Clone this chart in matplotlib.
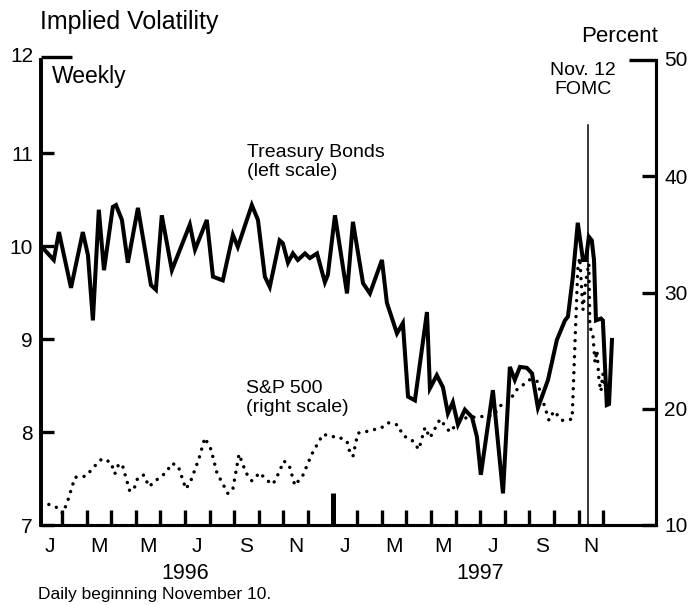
"""
Implied volatility: Treasury bonds (left scale) vs S&P 500 (right scale),
weekly from January 1996, daily beginning November 10, 1997.

Saves: out.png
"""

import matplotlib
matplotlib.use("Agg")
import matplotlib.pyplot as plt

plt.rcParams["font.family"] = ["Liberation Sans", "DejaVu Sans"]

# ---------------------------------------------------------------------------
# Data (x = months since Jan 1, 1996)
# ---------------------------------------------------------------------------

TSY_MONTHS = [
    0.15, 0.67, 0.88, 1.37, 1.85, 2.06, 2.26, 2.50, 2.71, 3.07, 3.20, 3.44,
    3.68, 4.09, 4.62, 4.82, 5.06, 5.47, 6.20, 6.41, 6.89, 7.14, 7.54, 7.95,
    8.15, 8.72, 8.97, 9.25, 9.45, 9.85, 9.98, 10.19, 10.39, 10.59, 10.88,
    11.08, 11.37, 11.69, 11.81, 12.10, 12.59, 12.83, 13.24, 13.52, 14.01,
    14.21, 14.62, 14.86, 15.07, 15.35, 15.84, 15.96, 16.24, 16.49, 16.69,
    16.89, 17.10, 17.38, 17.67, 17.87, 18.03, 18.52, 18.93, 19.21, 19.41,
    19.62, 19.90, 20.11, 20.35, 20.76, 21.12, 21.45, 21.57, 21.77, 21.97,
    22.18, 22.30, 22.42, 22.54, 22.63, 22.71, 22.91, 22.99, 23.15, 23.24,
    23.36,
]
TSY_VALUES = [
    10.00, 9.85, 10.15, 9.55, 10.15, 9.90, 9.20, 10.39, 9.74, 10.42, 10.44,
    10.28, 9.82, 10.41, 9.58, 9.53, 10.33, 9.74, 10.23, 9.96, 10.28, 9.67,
    9.63, 10.12, 9.99, 10.44, 10.28, 9.67, 9.56, 10.06, 10.03, 9.82, 9.92,
    9.85, 9.92, 9.87, 9.92, 9.61, 9.69, 10.33, 9.49, 10.26, 9.60, 9.49, 9.85,
    9.39, 9.06, 9.17, 8.38, 8.34, 9.29, 8.47, 8.61, 8.48, 8.20, 8.32, 8.08,
    8.24, 8.16, 7.95, 7.54, 8.45, 7.34, 8.70, 8.56, 8.70, 8.69, 8.63, 8.26,
    8.56, 8.99, 9.20, 9.24, 9.67, 10.25, 9.85, 9.85, 10.10, 10.06, 9.85,
    9.20, 9.22, 9.20, 8.29, 8.30, 8.99,
]

SPX_MONTHS = [
    0.15, 0.43, 0.80, 1.04, 1.24, 1.53, 1.98, 2.30, 2.63, 2.99, 3.15, 3.32,
    3.48, 3.76, 3.93, 4.09, 4.33, 4.54, 4.86, 5.23, 5.47, 5.72, 6.04, 6.24,
    6.57, 6.81, 7.06, 7.30, 7.75, 7.95, 8.20, 8.48, 8.72, 9.05, 9.29, 9.58,
    9.82, 10.02, 10.23, 10.47, 10.80, 11.16, 11.61, 12.02, 12.22, 12.59,
    12.71, 12.83, 13.03, 13.52, 14.01, 14.25, 14.66, 14.86, 15.23, 15.51,
    15.76, 15.96, 16.37, 16.77, 17.10, 17.38, 17.87, 18.52, 18.85, 19.21,
    19.41, 20.02, 20.31, 20.55, 20.80, 21.00, 21.33, 21.74, 21.97, 22.05,
    22.18, 22.30, 22.42, 22.46, 22.58, 22.67, 22.75, 22.83, 22.91, 22.99,
    23.07, 23.15,
]
SPX_VALUES = [
    11.9, 11.8, 11.5, 11.0, 12.1, 14.1, 14.2, 15.0, 15.7, 15.4, 14.4, 15.3,
    15.0, 12.9, 13.1, 14.1, 14.3, 13.3, 13.9, 14.5, 15.3, 15.1, 13.1, 13.8,
    15.7, 17.5, 16.5, 14.5, 12.7, 13.1, 16.1, 14.5, 13.8, 14.5, 13.9, 13.5,
    14.5, 15.5, 15.2, 13.4, 14.3, 16.1, 17.8, 17.6, 17.6, 17.2, 16.2, 15.9,
    17.9, 18.1, 18.4, 18.8, 18.6, 17.7, 17.3, 16.5, 18.4, 17.5, 19.1, 18.0,
    18.8, 19.2, 19.3, 19.4, 20.3, 20.6, 21.5, 22.5, 22.4, 20.7, 19.0, 19.8,
    19.0, 19.1, 32.0, 33.0, 28.5, 31.0, 32.5, 27.0, 26.5, 24.0, 25.0, 22.5,
    21.5, 23.0, 21.8, 22.5,
]

FOMC_MONTH = 22.37          # Nov. 12, 1997
MONTH_TICKS = list(range(1, 24))
YEAR_TICK = 12              # Jan 1997
MONTH_LABELS = ["J", "M", "M", "J", "S", "N", "J", "M", "M", "J", "S", "N"]
MONTH_LABEL_POS = [0.5, 2.5, 4.5, 6.5, 8.5, 10.5, 12.5, 14.5, 16.5, 18.5, 20.5, 22.5]
LEFT_TICKS = [7, 8, 9, 10, 11, 12]
RIGHT_TICKS = [10, 20, 30, 40, 50]

W, H = 694, 605


def fx(px):
    return px / W


def fy(py):
    return 1 - py / H


def main():
    fig = plt.figure(figsize=(W / 100, H / 100), dpi=100)
    ax = fig.add_axes([fx(41), fy(525), fx(656) - fx(41), fy(60) - fy(525)])
    ax2 = ax.twinx()

    ax.set_xlim(0.15, 25.15)
    ax.set_ylim(7, 12)
    ax2.set_ylim(10, 50)

    # Series
    ax.plot(TSY_MONTHS, TSY_VALUES, color="black", lw=2.9,
            solid_joinstyle="miter", zorder=3)
    ax2.plot(SPX_MONTHS, SPX_VALUES, color="black", lw=2.5,
             linestyle=(0, (0.01, 2.3)), dash_capstyle="round", zorder=3)

    # FOMC marker
    ax.plot([FOMC_MONTH, FOMC_MONTH], [7, 11.3], color="black", lw=1.1, zorder=2)

    # Spines
    for a in (ax, ax2):
        a.spines["top"].set_visible(False)
        a.spines["left"].set_linewidth(2.6)
        a.spines["right"].set_linewidth(2.2)
        a.spines["bottom"].set_linewidth(2.2)

    # Top caps on each scale
    ax.plot([0, 0.05], [1.006, 1.006], transform=ax.transAxes, color="black",
            lw=2.4, clip_on=False, solid_capstyle="butt")
    ax.plot([0.956, 1.0], [1.0, 1.0], transform=ax.transAxes, color="black",
            lw=2.4, clip_on=False, solid_capstyle="butt")

    # x ticks: months inward, Jan 1997 taller
    ax.set_xticks([YEAR_TICK])
    ax.set_xticks([m for m in MONTH_TICKS if m != YEAR_TICK], minor=True)
    ax.tick_params(axis="x", which="major", direction="in", length=23,
                   width=3.6, labelbottom=False)
    ax.tick_params(axis="x", which="minor", direction="in", length=11,
                   width=2.4)

    # y ticks
    ax.set_yticks(LEFT_TICKS[:-1])
    ax.set_yticklabels([str(v) for v in LEFT_TICKS[:-1]])
    ax.tick_params(axis="y", direction="in", length=9, width=2.4,
                   labelsize=15, pad=6)
    ax2.set_yticks(RIGHT_TICKS[:-1])
    ax2.set_yticklabels([str(v) for v in RIGHT_TICKS[:-1]])
    ax2.tick_params(axis="y", direction="in", length=10, width=2.4,
                    labelsize=15, pad=6)

    # Top tick labels (drawn separately beside the caps)
    fig.text(fx(33), fy(57), "12", ha="right", va="center", fontsize=15)
    fig.text(fx(664), fy(60), "50", ha="left", va="center", fontsize=15)

    # Month labels
    for pos, lab in zip(MONTH_LABEL_POS, MONTH_LABELS):
        ax.text(pos, -0.025, lab, transform=ax.get_xaxis_transform(),
                ha="center", va="top", fontsize=15)
    ax.text(6.0, -0.082, "1996", transform=ax.get_xaxis_transform(),
            ha="center", va="top", fontsize=15.5)
    ax.text(18.0, -0.082, "1997", transform=ax.get_xaxis_transform(),
            ha="center", va="top", fontsize=15.5)

    # Titles and annotations
    fig.text(fx(40), fy(22), "Implied Volatility", ha="left", va="center",
             fontsize=18)
    fig.text(fx(620), fy(37), "Percent", ha="center", va="center", fontsize=16)
    fig.text(fx(52), fy(77), "Weekly", ha="left", va="center", fontsize=16.5)
    fig.text(fx(583), fy(80), "Nov. 12\nFOMC", ha="center", va="center",
             fontsize=14, linespacing=1.15)
    fig.text(fx(247), fy(162), "Treasury Bonds\n(left scale)", ha="left",
             va="center", fontsize=14, linespacing=1.2)
    fig.text(fx(246), fy(398), "S&P 500\n(right scale)", ha="left",
             va="center", fontsize=14, linespacing=1.2)
    fig.text(fx(38), fy(595), "Daily beginning November 10.", ha="left",
             va="center", fontsize=12.5)

    fig.savefig("out.png", dpi=100)


if __name__ == "__main__":
    main()
